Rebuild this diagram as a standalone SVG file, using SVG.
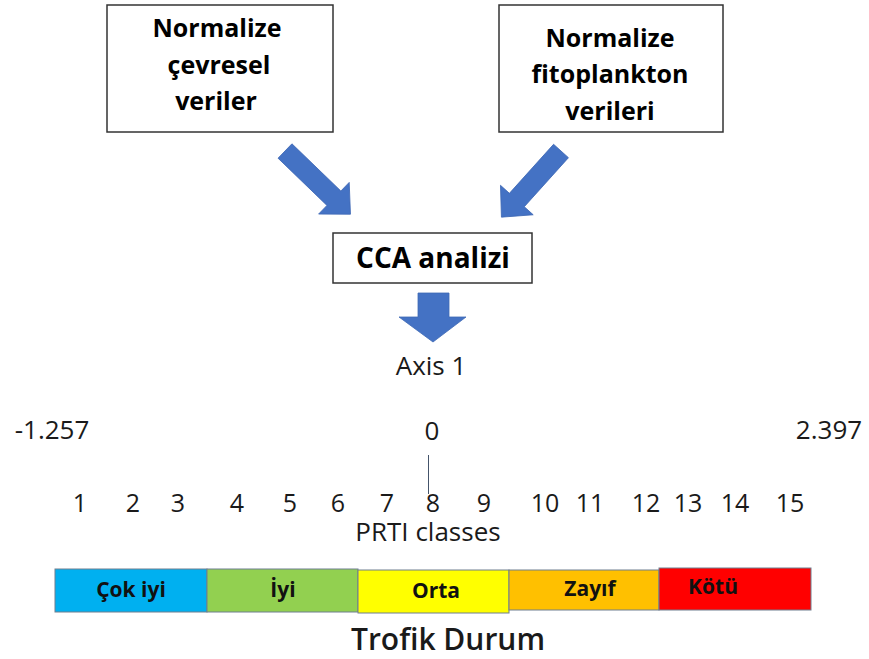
<svg xmlns="http://www.w3.org/2000/svg" width="869" height="659" viewBox="0 0 869 659">
<style>
.box{fill:#fff;stroke:#333;stroke-width:1.5}
.bt{font-family:"Open Sans","Noto Sans",sans-serif;font-weight:700;font-size:25px;fill:#000;text-anchor:middle}
.arr{fill:#4472C4;stroke:#3f69b5;stroke-width:0.8}
.num{font-family:"Open Sans","Noto Sans",sans-serif;font-size:26px;fill:#1a1a1a;text-anchor:middle}
.cls{font-family:"Open Sans","Noto Sans",sans-serif;font-size:25px;fill:#1a1a1a;text-anchor:middle}
.seg{stroke:#6f7f8f;stroke-width:1}
.sl{font-family:"Open Sans","Noto Sans",sans-serif;font-weight:700;font-size:21px;fill:#111;text-anchor:middle}
</style>
<rect width="869" height="659" fill="#fff"/>
<g id="node-cevresel">
<rect class="box" x="107" y="5" width="226" height="127"/>
<text class="bt" x="217" y="37">Normalize</text>
<text class="bt" x="219" y="74">çevresel</text>
<text class="bt" x="216" y="110">veriler</text>
</g>
<g id="node-fitoplankton">
<rect class="box" x="499" y="5" width="224" height="127"/>
<text class="bt" x="610" y="47">Normalize</text>
<text class="bt" x="610" y="83">fitoplankton</text>
<text class="bt" x="610" y="120">verileri</text>
</g>
<g id="node-cca">
<rect class="box" x="333" y="233" width="199" height="50"/>
<text class="bt" x="433" y="268" style="font-size:28px">CCA analizi</text>
</g>
<g id="connectors">
<polygon class="arr" transform="translate(285,151) rotate(44)" points="0,-10 68,-10 68,-22 91,0 68,22 68,10 0,10"/>
<polygon class="arr" transform="translate(561,151) rotate(132)" points="0,-10 66,-10 66,-22 89,0 66,22 66,10 0,10"/>
<polygon class="arr" points="418,293 449,293 449,317 466,317 433,342 399,317 418,317"/>
<line x1="428.5" y1="455" x2="428.5" y2="494" stroke="#44546A" stroke-width="1"/>
</g>
<g id="axis">
<text class="num" x="431" y="375">Axis 1</text>
<text class="num" x="52" y="439">-1.257</text>
<text class="num" x="432" y="440">0</text>
<text class="num" x="829" y="439">2.397</text>
<g id="classes">
<text class="cls" x="80" y="512">1</text>
<text class="cls" x="133" y="512">2</text>
<text class="cls" x="178" y="512">3</text>
<text class="cls" x="237" y="512">4</text>
<text class="cls" x="290" y="512">5</text>
<text class="cls" x="338" y="512">6</text>
<text class="cls" x="387" y="512">7</text>
<text class="cls" x="433" y="512">8</text>
<text class="cls" x="484" y="512">9</text>
<text class="cls" x="545" y="512">10</text>
<text class="cls" x="590" y="512">11</text>
<text class="cls" x="646" y="512">12</text>
<text class="cls" x="688" y="512">13</text>
<text class="cls" x="735" y="512">14</text>
<text class="cls" x="790" y="512">15</text>
</g>
<text class="num" x="428" y="541">PRTI classes</text>
</g>
<g id="trofik-bar">
<g id="seg-cok-iyi"><rect class="seg" x="55" y="569" width="152" height="43" fill="#00B0F0"/><text class="sl" x="131" y="597">Çok iyi</text></g>
<g id="seg-iyi"><rect class="seg" x="207" y="569" width="151" height="43" fill="#92D050"/><text class="sl" x="283" y="597">İyi</text></g>
<g id="seg-orta"><rect class="seg" x="358" y="570" width="151" height="43" fill="#FFFF00"/><text class="sl" x="436" y="598">Orta</text></g>
<g id="seg-zayif"><rect class="seg" x="509" y="570" width="150" height="40" fill="#FFC000"/><text class="sl" x="590" y="596">Zayıf</text></g>
<g id="seg-kotu"><rect class="seg" x="659" y="568" width="152" height="42" fill="#FF0000"/><text class="sl" x="713" y="594">Kötü</text></g>
</g>
<text x="448" y="650" font-family="'Open Sans','Noto Sans',sans-serif" font-weight="600" font-size="30" fill="#1a1a1a" text-anchor="middle">Trofik Durum</text>
</svg>
